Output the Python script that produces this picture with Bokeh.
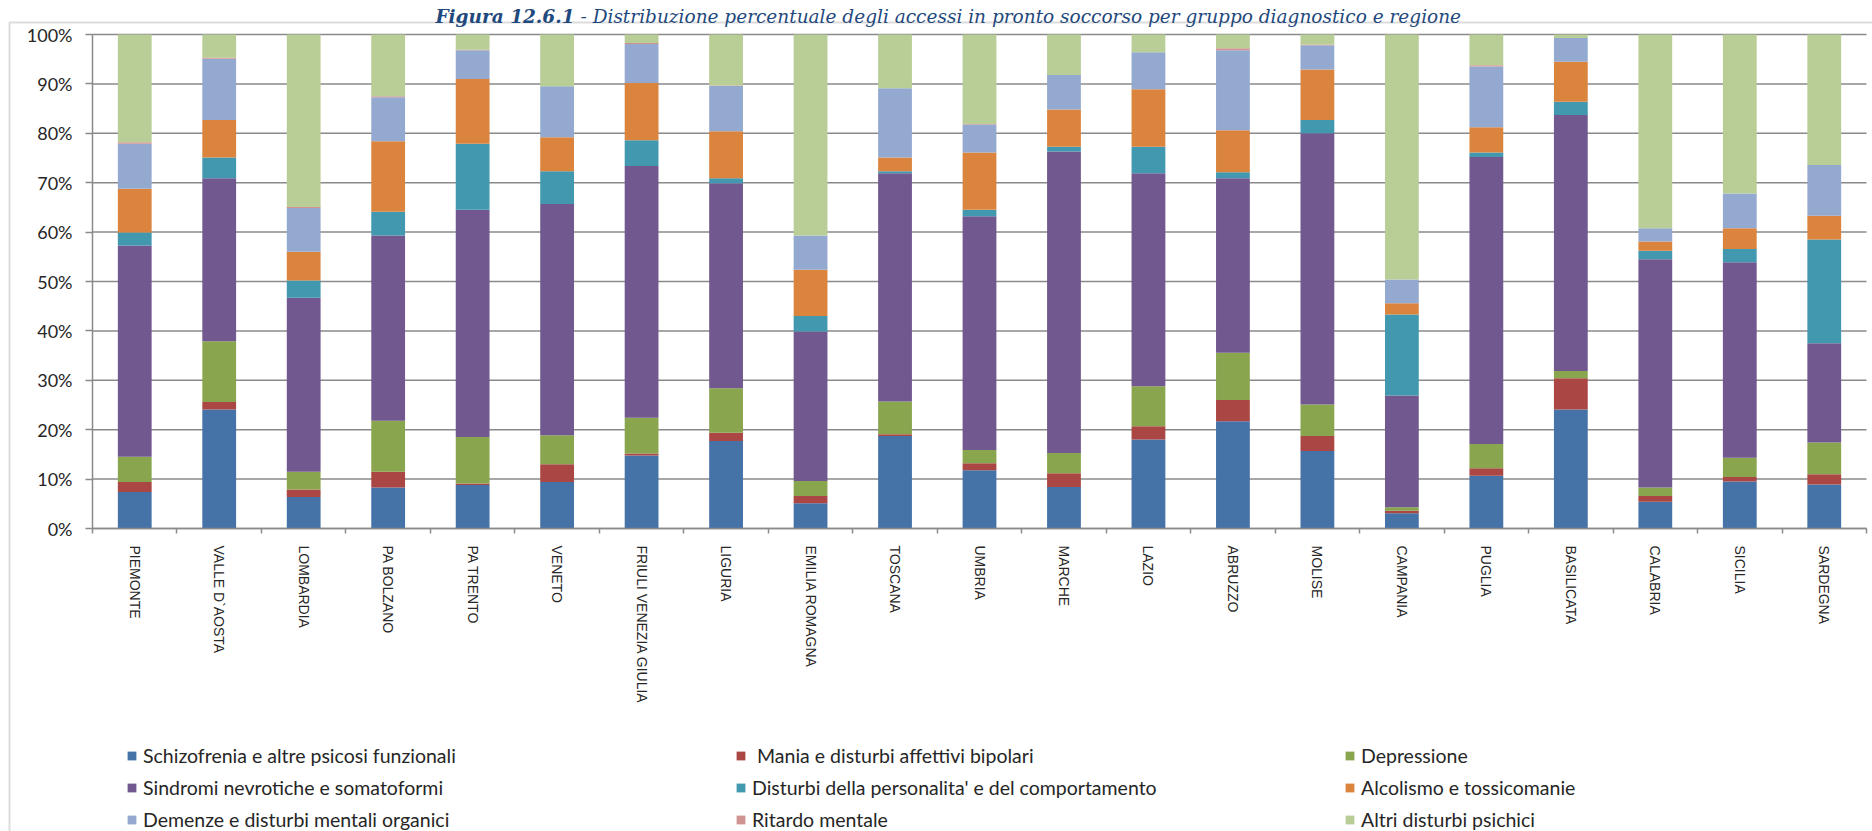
from bokeh.plotting import figure
from bokeh.models import (ColumnDataSource, Range1d, FixedTicker, PrintfTickFormatter,
                          Legend, LegendItem, Label, BoxAnnotation)
from bokeh.embed import file_html
from bokeh.resources import INLINE

regions = ["PIEMONTE", "VALLE D`AOSTA", "LOMBARDIA", "PA BOLZANO", "PA TRENTO", "VENETO",
           "FRIULI VENEZIA GIULIA", "LIGURIA", "EMILIA ROMAGNA", "TOSCANA", "UMBRIA",
           "MARCHE", "LAZIO", "ABRUZZO", "MOLISE", "CAMPANIA", "PUGLIA", "BASILICATA",
           "CALABRIA", "SICILIA", "SARDEGNA"]

series_names = ["Schizofrenia e altre psicosi funzionali",
                " Mania e disturbi affettivi bipolari",
                "Depressione",
                "Sindromi nevrotiche e somatoformi",
                "Disturbi della personalita' e del comportamento",
                "Alcolismo e tossicomanie",
                "Demenze e disturbi mentali organici",
                "Ritardo mentale",
                "Altri disturbi psichici"]

schizofrenia = [7.4, 24.1, 6.4, 8.3, 8.8, 9.4, 14.8, 17.7, 5.1, 18.7, 11.8, 8.4, 18.0, 21.7, 15.7, 3.1, 10.7, 24.1, 5.4, 9.5, 8.9]
mania        = [2.0, 1.5, 1.5, 3.2, 0.3, 3.6, 0.4, 1.7, 1.5, 0.4, 1.4, 2.8, 2.7, 4.3, 3.0, 0.5, 1.5, 6.3, 1.2, 0.9, 2.1]
depressione  = [5.1, 12.3, 3.6, 10.3, 9.4, 5.9, 7.2, 9.0, 3.0, 6.6, 2.7, 4.1, 8.1, 9.6, 6.4, 0.7, 4.9, 1.5, 1.7, 3.9, 6.4]
sindromi     = [42.8, 33.0, 35.2, 37.5, 46.0, 46.8, 51.0, 41.5, 30.3, 46.2, 47.3, 61.0, 43.1, 35.3, 54.9, 22.6, 58.1, 51.8, 46.2, 39.6, 20.1]
personalita  = [2.6, 4.2, 3.5, 4.8, 13.4, 6.6, 5.2, 1.0, 3.1, 0.4, 1.3, 1.0, 5.4, 1.2, 2.7, 16.4, 0.9, 2.7, 1.7, 2.7, 21.0]
alcolismo    = [8.9, 7.6, 5.8, 14.3, 13.1, 6.9, 11.6, 9.5, 9.4, 2.8, 11.6, 7.5, 11.6, 8.5, 10.2, 2.3, 5.1, 8.1, 1.9, 4.2, 4.8]
demenze      = [9.1, 12.4, 8.9, 8.9, 5.8, 10.3, 7.9, 9.2, 6.9, 14.0, 5.7, 7.0, 7.5, 16.2, 4.9, 4.8, 12.3, 4.8, 2.7, 7.0, 10.3]
ritardo      = [0.3, 0.2, 0.2, 0.2, 0.1, 0.0, 0.2, 0.1, 0.0, 0.0, 0.1, 0.0, 0.0, 0.4, 0.2, 0.0, 0.3, 0.0, 0.0, 0.0, 0.0]
altri        = [21.8, 4.7, 34.9, 12.5, 3.1, 10.5, 1.7, 10.3, 40.7, 10.9, 18.1, 8.2, 3.6, 2.8, 2.0, 49.6, 6.2, 0.7, 39.2, 32.2, 26.4]

colors = ["#4572A7", "#AA4643", "#89A54E", "#71588F", "#4198AF",
          "#DB843D", "#93A9CF", "#D19392", "#B9CD96"]

y_ticks = [0, 10, 20, 30, 40, 50, 60, 70, 80, 90, 100]

title_bold = "Figura 12.6.1"
title_rest = "- Distribuzione percentuale degli accessi in pronto soccorso per gruppo diagnostico e regione"

series = [schizofrenia, mania, depressione, sindromi, personalita, alcolismo, demenze, ritardo, altri]
keys = ["s%d" % i for i in range(len(series))]
xs = list(range(len(regions)))
data = {"x": xs}
for k, s in zip(keys, series):
    data[k] = s
source = ColumnDataSource(data)

GRAY = "#8a8a8a"
W, H = 1872, 831
# pixel layout of the plotting area inside the canvas
PX_LEFT, PX_RIGHT, PX_TOP, PX_BOTTOM = 92, 1866, 34, 528
n = len(regions)
xpp = (PX_RIGHT - PX_LEFT) / n            # px per category
ypp = (PX_BOTTOM - PX_TOP) / 100.0         # px per percent
x_lo = -0.5 - PX_LEFT / xpp
x_hi = n - 0.5 + (W - PX_RIGHT) / xpp
y_lo = -(H - PX_BOTTOM) / ypp
y_hi = 100 + PX_TOP / ypp

def px_to_x(px):
    return x_lo + px / xpp

def py_to_y(py):
    return y_hi - py / ypp

p = figure(width=W, height=H, x_range=Range1d(x_lo, x_hi), y_range=Range1d(y_lo, y_hi),
           output_backend="svg", toolbar_location=None, title=None,
           min_border=0, min_border_left=0, min_border_right=0,
           min_border_top=0, min_border_bottom=0)
p.outline_line_color = None
p.background_fill_color = "white"
p.border_fill_color = "white"
p.xgrid.grid_line_color = None
p.ygrid.grid_line_color = None

# outer chart border (left and top edges)
p.add_layout(BoxAnnotation(left=px_to_x(9), right=x_hi + 5, top=py_to_y(22), bottom=y_lo - 50,
                           fill_color=None, fill_alpha=0, line_color=GRAY, line_width=2,
                           level="underlay"))

# horizontal gridlines
p.segment(x0=[-0.5] * len(y_ticks), x1=[n - 0.5] * len(y_ticks), y0=y_ticks, y1=y_ticks,
          line_color=GRAY, line_width=1.5)

renderers = p.vbar_stack(keys, x="x", width=0.4, fill_color=colors, line_color=None, source=source)

# x axis
xa = p.xaxis[0]
xa.fixed_location = 0
xa.bounds = (-0.5, n - 0.5)
xa.ticker = FixedTicker(ticks=xs, minor_ticks=[i - 0.5 for i in range(n + 1)])
xa.major_label_overrides = {i: r for i, r in enumerate(regions)}
xa.major_tick_line_color = None
xa.major_tick_out = 0
xa.major_tick_in = 0
xa.minor_tick_out = 5
xa.minor_tick_in = 0
xa.minor_tick_line_color = GRAY
xa.minor_tick_line_width = 1.5
xa.axis_line_color = GRAY
xa.axis_line_width = 1.5
xa.major_label_orientation = "vertical"
xa.major_label_text_font = "Liberation Sans"
xa.major_label_text_font_size = "14px"
xa.major_label_text_color = "#262626"
xa.major_label_standoff = 12

# y axis
ya = p.yaxis[0]
ya.fixed_location = -0.5
ya.bounds = (0, 100)
ya.ticker = FixedTicker(ticks=y_ticks)
ya.formatter = PrintfTickFormatter(format="%d%%")
ya.major_tick_out = 7
ya.major_tick_in = 0
ya.major_tick_line_color = GRAY
ya.major_tick_line_width = 1.5
ya.minor_tick_line_color = None
ya.axis_line_color = GRAY
ya.axis_line_width = 1.5
ya.major_label_text_font = "Lato"
ya.major_label_text_font_size = "18px"
ya.major_label_text_color = "#262626"
ya.major_label_standoff = 13

# title (bold part right-aligned at the split point, rest left-aligned after a space)
split_px, gap_px = 574, 6
ty = py_to_y(16)
p.add_layout(Label(x=px_to_x(split_px), y=ty, text=title_bold, text_align="right",
                   text_baseline="alphabetic", text_font="DejaVu Serif",
                   text_font_style="bold italic", text_font_size="18.5px", text_color="#1f497d"))
p.add_layout(Label(x=px_to_x(split_px + gap_px), y=ty, text=title_rest, text_align="left",
                   text_baseline="alphabetic", text_font="DejaVu Serif",
                   text_font_style="italic", text_font_size="18.5px", text_color="#1f497d"))

items = [LegendItem(label=nm, renderers=[r]) for nm, r in zip(series_names, renderers)]
legend = Legend(items=items, location=(126, 0), orientation="horizontal", ncols=3,
                glyph_width=11, glyph_height=11, label_standoff=6, label_width=583,
                label_height=20, spacing=9, padding=0, margin=0,
                border_line_color=None, background_fill_alpha=0,
                label_text_font="Lato", label_text_font_size="19.5px",
                label_text_color="#262626")
p.add_layout(legend)

open("out.html", "w").write(file_html(p, INLINE))
